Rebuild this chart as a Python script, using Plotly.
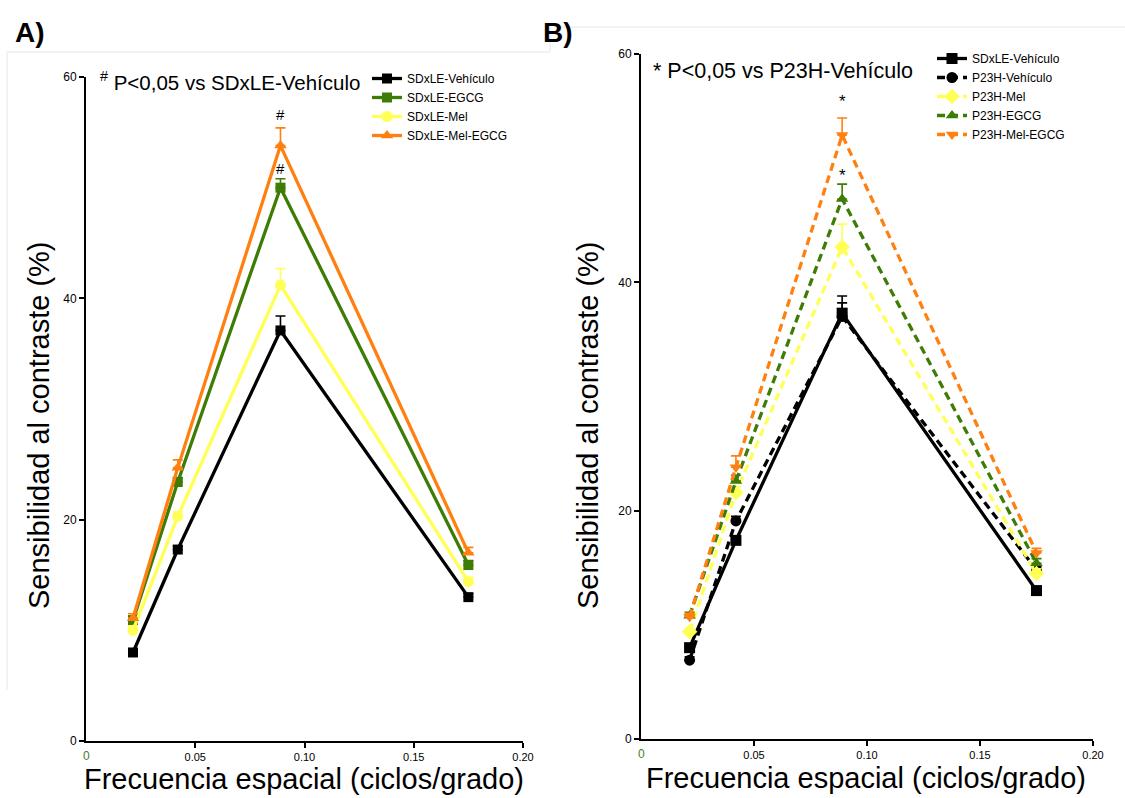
import plotly.graph_objects as go

# ---------------- data ----------------
freq = [0.0215, 0.042, 0.089, 0.175]

# Panel A
a_names = ["SDxLE-Vehículo", "SDxLE-EGCG", "SDxLE-Mel", "SDxLE-Mel-EGCG"]
a_veh = [8.0, 17.3, 37.1, 13.0]
a_egcg = [10.9, 23.4, 50.0, 15.9]
a_mel = [10.0, 20.3, 41.2, 14.4]
a_melegcg = [11.1, 24.7, 53.8, 17.0]
a_veh_err = [0.3, 0.3, 1.3, 0.3]
a_egcg_err = [0.4, 0.4, 0.8, 0.4]
a_mel_err = [0.4, 0.4, 1.5, 0.4]
a_melegcg_err = [0.4, 0.7, 1.6, 0.5]

# Panel B
b_names = ["SDxLE-Vehículo", "P23H-Vehículo", "P23H-Mel", "P23H-EGCG", "P23H-Mel-EGCG"]
b_sd_veh = [8.0, 17.4, 37.3, 13.0]
b_p23_veh = [6.9, 19.1, 37.0, 14.8]
b_mel = [9.4, 21.6, 43.1, 14.5]
b_egcg = [10.8, 22.6, 47.3, 15.4]
b_melegcg = [10.7, 23.8, 52.9, 16.3]
b_sd_veh_err = [0.3, 0.3, 1.5, 0.3]
b_p23_veh_err = [0.3, 0.4, 1.2, 0.3]
b_mel_err = [0.3, 0.5, 2.0, 0.4]
b_egcg_err = [0.3, 0.5, 1.3, 0.4]
b_melegcg_err = [0.3, 1.0, 1.5, 0.4]

y_ticks = [0, 20, 40, 60]
x_ticks = [0.05, 0.10, 0.15, 0.20]
x_ticktext = ["0.05", "0.10", "0.15", "0.20"]

# ---------------- styles ----------------
BLACK = "#000000"
GREEN = "#3D7C05"
YELLOW = "#FFFF55"
ORANGE = "#FF8010"
FONT = "Liberation Sans, Arial, sans-serif"

W, H = 1125, 798


def px_x(p):
    return p / W


def px_y(p):
    return 1 - p / H


fig = go.Figure()


def add(x, y, err, name, color, symbol, size, dash, xa, ya, legend):
    fig.add_trace(go.Scatter(
        x=x, y=y, name=name, mode="lines+markers",
        line=dict(color=color, width=3.3, dash=dash),
        marker=dict(color=color, symbol=symbol, size=size, line=dict(width=0)),
        error_y=dict(type="data", symmetric=False, array=err,
                     arrayminus=[0] * len(err), color=color,
                     thickness=1.6, width=5),
        xaxis=xa, yaxis=ya, legend=legend, cliponaxis=False,
    ))


# Panel A (solid lines)
add(freq, a_veh, a_veh_err, a_names[0], BLACK, "square", 10, "solid", "x", "y", "legend")
add(freq, a_egcg, a_egcg_err, a_names[1], GREEN, "square", 10, "solid", "x", "y", "legend")
add(freq, a_mel, a_mel_err, a_names[2], YELLOW, "circle", 11, "solid", "x", "y", "legend")
add(freq, a_melegcg, a_melegcg_err, a_names[3], ORANGE, "triangle-up", 11, "solid", "x", "y", "legend")

# Panel B
DASH = "8px,5px"
add(freq, b_sd_veh, b_sd_veh_err, b_names[0], BLACK, "square", 11, "solid", "x2", "y2", "legend2")
add(freq, b_p23_veh, b_p23_veh_err, b_names[1], BLACK, "circle", 11, DASH, "x2", "y2", "legend2")
add(freq, b_mel, b_mel_err, b_names[2], YELLOW, "diamond", 12, DASH, "x2", "y2", "legend2")
add(freq, b_egcg, b_egcg_err, b_names[3], GREEN, "triangle-up", 11, DASH, "x2", "y2", "legend2")
add(freq, b_melegcg, b_melegcg_err, b_names[4], ORANGE, "triangle-down", 11, DASH, "x2", "y2", "legend2")

axis_common = dict(
    showline=True, linecolor="black", linewidth=2, showgrid=False, zeroline=False,
    ticks="outside", ticklen=5, tickwidth=2, tickcolor="black", mirror=False,
    automargin=False,
)

fig.update_layout(
    template="none",
    width=W, height=H,
    margin=dict(l=0, r=0, t=0, b=0, autoexpand=False),
    paper_bgcolor="white", plot_bgcolor="white",
    font=dict(family=FONT, color="black"),
    xaxis=dict(domain=[px_x(86), px_x(523)], range=[0, 0.2], anchor="y",
               tickvals=x_ticks, ticktext=x_ticktext, tickfont=dict(size=11), **axis_common),
    yaxis=dict(domain=[px_y(741), px_y(77)], range=[0, 60], anchor="x",
               tickvals=y_ticks, tickfont=dict(size=12), **axis_common),
    xaxis2=dict(domain=[px_x(641), px_x(1093)], range=[0, 0.2], anchor="y2",
                tickvals=x_ticks, ticktext=x_ticktext, tickfont=dict(size=11), **axis_common),
    yaxis2=dict(domain=[px_y(739), px_y(54)], range=[0, 60], anchor="x2",
                tickvals=y_ticks, tickfont=dict(size=12), **axis_common),
    legend=dict(x=px_x(367), y=px_y(64), xanchor="left", yanchor="top",
                font=dict(size=12, family=FONT), bgcolor="rgba(0,0,0,0)",
                itemwidth=30, tracegroupgap=0),
    legend2=dict(x=px_x(932), y=px_y(44), xanchor="left", yanchor="top",
                 font=dict(size=12, family=FONT), bgcolor="rgba(0,0,0,0)",
                 itemwidth=30, tracegroupgap=0),
    showlegend=True,
)

ann = []
# panel letters
ann.append(dict(text="<b>A)</b>", x=px_x(13), y=px_y(32), xref="paper", yref="paper",
                xanchor="left", yanchor="middle", showarrow=False, font=dict(size=28)))
ann.append(dict(text="<b>B)</b>", x=px_x(541), y=px_y(32), xref="paper", yref="paper",
                xanchor="left", yanchor="middle", showarrow=False, font=dict(size=28)))
# significance legends
ann.append(dict(text="<sup>#</sup> P<0,05 vs SDxLE-Vehículo", x=px_x(98), y=px_y(81),
                xref="paper", yref="paper", xanchor="left", yanchor="middle",
                showarrow=False, font=dict(size=20.5)))
ann.append(dict(text="* P<0,05 vs P23H-Vehículo", x=px_x(651), y=px_y(71),
                xref="paper", yref="paper", xanchor="left", yanchor="middle",
                showarrow=False, font=dict(size=21.5)))
# axis titles
for xc, yc in [(39, 425), (588, 425)]:
    ann.append(dict(text="Sensibilidad al contraste (%)", x=px_x(xc), y=px_y(yc),
                    xref="paper", yref="paper", xanchor="center", yanchor="middle",
                    textangle=-90, showarrow=False, font=dict(size=29)))
for xc, yc in [(304, 779), (866, 778)]:
    ann.append(dict(text="Frecuencia espacial (ciclos/grado)", x=px_x(xc), y=px_y(yc),
                    xref="paper", yref="paper", xanchor="center", yanchor="middle",
                    showarrow=False, font=dict(size=29)))
# green zero under origin
ann.append(dict(text="0", x=0, y=0, xref="x", yref="y", xanchor="center", yanchor="top",
                yshift=-6, showarrow=False, font=dict(size=12, color="#4E7A1E")))
ann.append(dict(text="0", x=0, y=0, xref="x2", yref="y2", xanchor="center", yanchor="top",
                yshift=-6, showarrow=False, font=dict(size=12, color="#4E7A1E")))
# significance marks
ann.append(dict(text="#", x=0.089, y=56.6, xref="x", yref="y", showarrow=False, font=dict(size=15)))
ann.append(dict(text="#", x=0.089, y=51.7, xref="x", yref="y", showarrow=False, font=dict(size=15)))
ann.append(dict(text="*", x=0.089, y=55.8, xref="x2", yref="y2", showarrow=False, font=dict(size=17)))
ann.append(dict(text="*", x=0.089, y=49.4, xref="x2", yref="y2", showarrow=False, font=dict(size=17)))
fig.update_layout(annotations=ann)

# faint crop frame lines from the source image
frame = "#E6E6E6"
shapes = [
    dict(type="line", xref="paper", yref="paper", x0=px_x(7), x1=px_x(550), y0=px_y(52), y1=px_y(52),
         line=dict(color=frame, width=1)),
    dict(type="line", xref="paper", yref="paper", x0=px_x(7), x1=px_x(7), y0=px_y(52), y1=px_y(690),
         line=dict(color=frame, width=1)),
    dict(type="line", xref="paper", yref="paper", x0=px_x(550), x1=px_x(550), y0=px_y(27), y1=px_y(52),
         line=dict(color=frame, width=1)),
    dict(type="line", xref="paper", yref="paper", x0=px_x(558), x1=1, y0=px_y(27), y1=px_y(27),
         line=dict(color=frame, width=1)),
]
fig.update_layout(shapes=shapes)

fig.write_html("out.html")
